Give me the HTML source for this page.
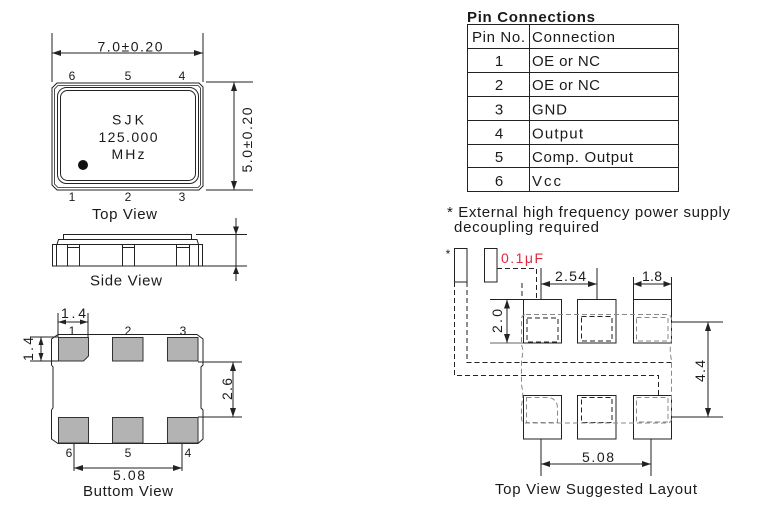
<!DOCTYPE html>
<html><head><meta charset="utf-8"><style>
html,body{margin:0;padding:0;background:#fff;}
svg{display:block;}
text{font-family:"Liberation Sans",Arial,sans-serif;fill:#1a1a1a;}
</style></head><body>
<svg width="764" height="517" viewBox="0 0 764 517" xmlns="http://www.w3.org/2000/svg">
<g stroke="#222" stroke-width="1" fill="none">
<!-- ===== TOP VIEW ===== -->
<line x1="52" y1="33" x2="52" y2="82"/>
<line x1="203" y1="33" x2="203" y2="82"/>
<line x1="52" y1="53" x2="203" y2="53"/>
<path d="M57,83 L199,83 L203,87 L203,186 L199,190 L57,190 L52,185 L52,88 Z"/>
<path d="M58,85.5 L198,85.5 L200.5,88 L200.5,185 L198,187.5 L58,187.5 L54.5,184 L54.5,89 Z" stroke-width="0.8"/>
<rect x="57.5" y="87.5" width="141" height="96" rx="9"/>
<rect x="60.5" y="90.5" width="135" height="90" rx="7"/>
<line x1="206" y1="82" x2="253" y2="82"/>
<line x1="206" y1="190" x2="253" y2="190"/>
<line x1="234" y1="82" x2="234" y2="190"/>

<!-- ===== SIDE VIEW ===== -->
<rect x="63.5" y="234.5" width="128" height="5"/>
<path d="M57,244.5 L58.5,239.5 L197,239.5 L198.5,244.5"/>
<rect x="52.5" y="244.5" width="150" height="21.5"/>
<line x1="56.5" y1="244.5" x2="56.5" y2="266"/>
<line x1="198.5" y1="244.5" x2="198.5" y2="266"/>
<path d="M67.5,266 L67.5,244.5 M79.5,266 L79.5,244.5 M67.5,247.5 L79.5,247.5"/>
<path d="M122.5,266 L122.5,244.5 M134.5,266 L134.5,244.5 M122.5,247.5 L134.5,247.5"/>
<path d="M176.5,266 L176.5,244.5 M189.5,266 L189.5,244.5 M176.5,247.5 L189.5,247.5"/>
<line x1="196" y1="234.5" x2="247" y2="234.5"/>
<line x1="203" y1="266" x2="247" y2="266"/>
<line x1="236" y1="218" x2="236" y2="281"/>

<!-- ===== BOTTOM VIEW ===== -->
<path d="M58,334.5 L197,334.5 L203,339 L203,365 L201,367 L201,408 L203,410 L203,439 L198,443.5 L58,443.5 L51.5,439 L51.5,410 L53,408 L53,367 L51.5,365 L51.5,339 Z"/>
<line x1="58" y1="313" x2="58" y2="337"/>
<line x1="88" y1="313" x2="88" y2="337"/>
<line x1="58" y1="322" x2="88" y2="322"/>
<line x1="30" y1="337" x2="58" y2="337"/>
<line x1="30" y1="361" x2="58" y2="361"/>
<line x1="41" y1="337" x2="41" y2="361"/>
<line x1="198" y1="362" x2="242" y2="362"/>
<line x1="198" y1="417" x2="242" y2="417"/>
<line x1="233" y1="362" x2="233" y2="417"/>
<line x1="74" y1="443" x2="74" y2="471"/>
<line x1="182" y1="443" x2="182" y2="471"/>
<line x1="74" y1="468" x2="182" y2="468"/>

<!-- ===== TABLE ===== -->
<line x1="467" y1="24.5" x2="678" y2="24.5"/>
<line x1="467" y1="48.5" x2="678" y2="48.5"/>
<line x1="467" y1="72.5" x2="678" y2="72.5"/>
<line x1="467" y1="96.5" x2="678" y2="96.5"/>
<line x1="467" y1="120.5" x2="678" y2="120.5"/>
<line x1="467" y1="144.5" x2="678" y2="144.5"/>
<line x1="467" y1="167.5" x2="678" y2="167.5"/>
<line x1="467" y1="191.5" x2="678" y2="191.5"/>
<line x1="467.5" y1="24" x2="467.5" y2="192"/>
<line x1="529.5" y1="24" x2="529.5" y2="192"/>
<line x1="678.5" y1="24" x2="678.5" y2="192"/>

<!-- ===== LAYOUT ===== -->
<rect x="454.5" y="248.5" width="12.5" height="33.5"/>
<rect x="484.5" y="248.5" width="12.5" height="33.5"/>
<rect x="523.5" y="299.5" width="38" height="43.5"/>
<rect x="577.5" y="299.5" width="38.5" height="43.5"/>
<rect x="633.5" y="299.5" width="38" height="43.5"/>
<rect x="523.5" y="395.5" width="38" height="43.5"/>
<rect x="577.5" y="395.5" width="38.5" height="43.5"/>
<rect x="633.5" y="395.5" width="38" height="43.5"/>
<line x1="541" y1="268" x2="541" y2="299"/>
<line x1="597" y1="268" x2="597" y2="299"/>
<line x1="541" y1="284" x2="597" y2="284"/>
<line x1="633.5" y1="277" x2="633.5" y2="299"/>
<line x1="671.5" y1="277" x2="671.5" y2="299"/>
<line x1="633.5" y1="284" x2="671.5" y2="284"/>
<line x1="490" y1="299.5" x2="523" y2="299.5"/>
<line x1="490" y1="343" x2="523" y2="343" stroke="#666"/>
<line x1="507" y1="299.5" x2="507" y2="343"/>
<line x1="672" y1="322" x2="723" y2="322"/>
<line x1="672" y1="417" x2="723" y2="417"/>
<line x1="708" y1="322" x2="708" y2="417"/>
<line x1="541" y1="439" x2="541" y2="476"/>
<line x1="651" y1="439" x2="651" y2="476"/>
<line x1="541" y1="464" x2="651" y2="464"/>
</g>

<!-- dashed black traces -->
<g stroke="#222" stroke-width="1" fill="none" stroke-dasharray="5,3">
<path d="M454.5,282 L454.5,375.5 L658.5,375.5 L658.5,395"/>
<path d="M467,282 L467,362.5 L672,362.5"/>
<path d="M497,268.5 L536.5,268.5 L536.5,299"/>
<path d="M522,283 L522,299"/>
<rect x="527" y="318" width="31" height="24"/>
<rect x="581.5" y="316.5" width="30.5" height="24.5"/>
<rect x="581.5" y="397.5" width="30.5" height="25"/>
</g>
<!-- dashed gray component outline -->
<g stroke="#888" stroke-width="1" fill="none" stroke-dasharray="5,3">
<path d="M526,314.5 L667,314.5 Q671.5,314.5 671.5,320 L671.5,340 Q669,350 671.5,360 L671.5,418 Q671.5,423 667,423 L526,423 Q521.5,423 521.5,418 L521.5,405 Q524,395 521.5,385 L521.5,360 Q524,350 521.5,345 L521.5,320 Q521.5,314.5 526,314.5 Z"/>
<rect x="636.5" y="317.5" width="31.5" height="23.5"/>
<path d="M526.5,397.5 L550,397.5 Q557.5,400 557.5,408 L557.5,422.5 L526.5,422.5 Z"/>
<rect x="636.5" y="397.5" width="31.5" height="24.5"/>
</g>

<!-- gray pads bottom view -->
<g fill="#b3b3b3" stroke="#333" stroke-width="1">
<path d="M58.5,337.5 L88.5,337.5 L88.5,356 L83.5,361 L58.5,361 Z"/>
<rect x="112.5" y="337.5" width="30.5" height="23.5"/>
<rect x="167.5" y="337.5" width="30.5" height="23.5"/>
<rect x="58.5" y="417.5" width="30" height="25.5"/>
<rect x="112.5" y="417.5" width="30.5" height="25.5"/>
<rect x="167.5" y="417.5" width="30.5" height="25.5"/>
</g>

<!-- arrowheads -->
<g fill="#222" stroke="none">
<path d="M52,53 l9,-3 l0,6 Z"/><path d="M203,53 l-9,-3 l0,6 Z"/>
<path d="M234,82 l-3,9 l6,0 Z"/><path d="M234,190 l-3,-9 l6,0 Z"/>
<path d="M236,234.5 l-3,-8 l6,0 Z"/><path d="M236,266 l-3,8 l6,0 Z"/>
<path d="M58,322 l8,-2.5 l0,5 Z"/><path d="M88,322 l-8,-2.5 l0,5 Z"/>
<path d="M41,337 l-2.5,8 l5,0 Z"/><path d="M41,361 l-2.5,-8 l5,0 Z"/>
<path d="M233,362 l-3,9 l6,0 Z"/><path d="M233,417 l-3,-9 l6,0 Z"/>
<path d="M74,468 l9,-3 l0,6 Z"/><path d="M182,468 l-9,-3 l0,6 Z"/>
<path d="M541,284 l9,-3 l0,6 Z"/><path d="M597,284 l-9,-3 l0,6 Z"/>
<path d="M633.5,284 l8,-3 l0,6 Z"/><path d="M671.5,284 l-8,-3 l0,6 Z"/>
<path d="M507,299.5 l-3,9 l6,0 Z"/><path d="M507,343 l-3,-9 l6,0 Z"/>
<path d="M708,322 l-3,9 l6,0 Z"/><path d="M708,417 l-3,-9 l6,0 Z"/>
<path d="M541,464 l9,-3 l0,6 Z"/><path d="M651,464 l-9,-3 l0,6 Z"/>
</g>
<circle cx="83" cy="165" r="5" fill="#111"/>

<!-- ===== TEXT ===== -->
<g font-size="14">
<text x="130" y="51.5" text-anchor="middle" textLength="65" lengthAdjust="spacing">7.0±0.20</text>
<text transform="translate(252,140) rotate(-90)" text-anchor="middle" textLength="65" lengthAdjust="spacing">5.0±0.20</text>
<text x="128" y="124.5" text-anchor="middle" textLength="32" lengthAdjust="spacing">SJK</text>
<text x="128" y="142" text-anchor="middle" textLength="59" lengthAdjust="spacing">125.000</text>
<text x="128" y="159" text-anchor="middle" textLength="33" lengthAdjust="spacing">MHz</text>
<text x="73.5" y="318" text-anchor="middle" textLength="25" lengthAdjust="spacing">1.4</text>
<text transform="translate(33,349) rotate(-90)" text-anchor="middle" textLength="24" lengthAdjust="spacing">1.4</text>
<text transform="translate(232,389) rotate(-90)" text-anchor="middle" textLength="22" lengthAdjust="spacing">2.6</text>
<text x="129" y="480" text-anchor="middle" textLength="32" lengthAdjust="spacing">5.08</text>
<text x="570.5" y="281" text-anchor="middle" textLength="31" lengthAdjust="spacing">2.54</text>
<text x="652" y="281" text-anchor="middle" textLength="20" lengthAdjust="spacing">1.8</text>
<text transform="translate(502,321) rotate(-90)" text-anchor="middle" textLength="24" lengthAdjust="spacing">2.0</text>
<text transform="translate(705,371) rotate(-90)" text-anchor="middle" textLength="22" lengthAdjust="spacing">4.4</text>
<text x="598" y="462" text-anchor="middle" textLength="32" lengthAdjust="spacing">5.08</text>
<text x="501" y="263" fill="#e2283e" style="fill:#e2283e" textLength="42" lengthAdjust="spacing">0.1μF</text>
</g>
<g font-size="15">
<text x="124.5" y="219" text-anchor="middle" textLength="65" lengthAdjust="spacing">Top View</text>
<text x="126" y="285.5" text-anchor="middle" textLength="72" lengthAdjust="spacing">Side View</text>
<text x="128" y="496" text-anchor="middle" textLength="90" lengthAdjust="spacing">Buttom View</text>

<text x="467" y="22" font-weight="bold" textLength="128" lengthAdjust="spacing">Pin Connections</text>
<text x="472" y="42" textLength="53" lengthAdjust="spacing">Pin No.</text>
<text x="532" y="42" textLength="83" lengthAdjust="spacing">Connection</text>
<text x="499" y="66" text-anchor="middle">1</text>
<text x="532" y="66" textLength="68" lengthAdjust="spacing">OE or NC</text>
<text x="499" y="90" text-anchor="middle">2</text>
<text x="532" y="90" textLength="68" lengthAdjust="spacing">OE or NC</text>
<text x="499" y="114.5" text-anchor="middle">3</text>
<text x="532" y="114.5" textLength="35" lengthAdjust="spacing">GND</text>
<text x="499" y="138.5" text-anchor="middle">4</text>
<text x="532" y="138.5" textLength="51" lengthAdjust="spacing">Output</text>
<text x="499" y="162" text-anchor="middle">5</text>
<text x="532" y="162" textLength="101" lengthAdjust="spacing">Comp. Output</text>
<text x="499" y="186" text-anchor="middle">6</text>
<text x="532" y="186" textLength="29" lengthAdjust="spacing">Vcc</text>
<text x="447" y="217" textLength="283" lengthAdjust="spacing">* External high frequency power supply</text>
<text x="454" y="232" textLength="145" lengthAdjust="spacing">decoupling required</text>
<text x="596" y="494" text-anchor="middle" textLength="202" lengthAdjust="spacing">Top View Suggested Layout</text>
</g>
<g font-size="12">
<text x="72" y="80" text-anchor="middle">6</text>
<text x="128" y="80" text-anchor="middle">5</text>
<text x="182" y="80" text-anchor="middle">4</text>
<text x="72" y="201" text-anchor="middle">1</text>
<text x="128" y="201" text-anchor="middle">2</text>
<text x="182" y="201" text-anchor="middle">3</text>
<text x="72" y="335" text-anchor="middle">1</text>
<text x="128" y="335" text-anchor="middle">2</text>
<text x="183" y="335" text-anchor="middle">3</text>
<text x="69" y="457" text-anchor="middle">6</text>
<text x="128" y="457" text-anchor="middle">5</text>
<text x="188" y="457" text-anchor="middle">4</text>
<text x="448" y="258" text-anchor="middle">*</text>
</g>
</svg>
</body></html>
